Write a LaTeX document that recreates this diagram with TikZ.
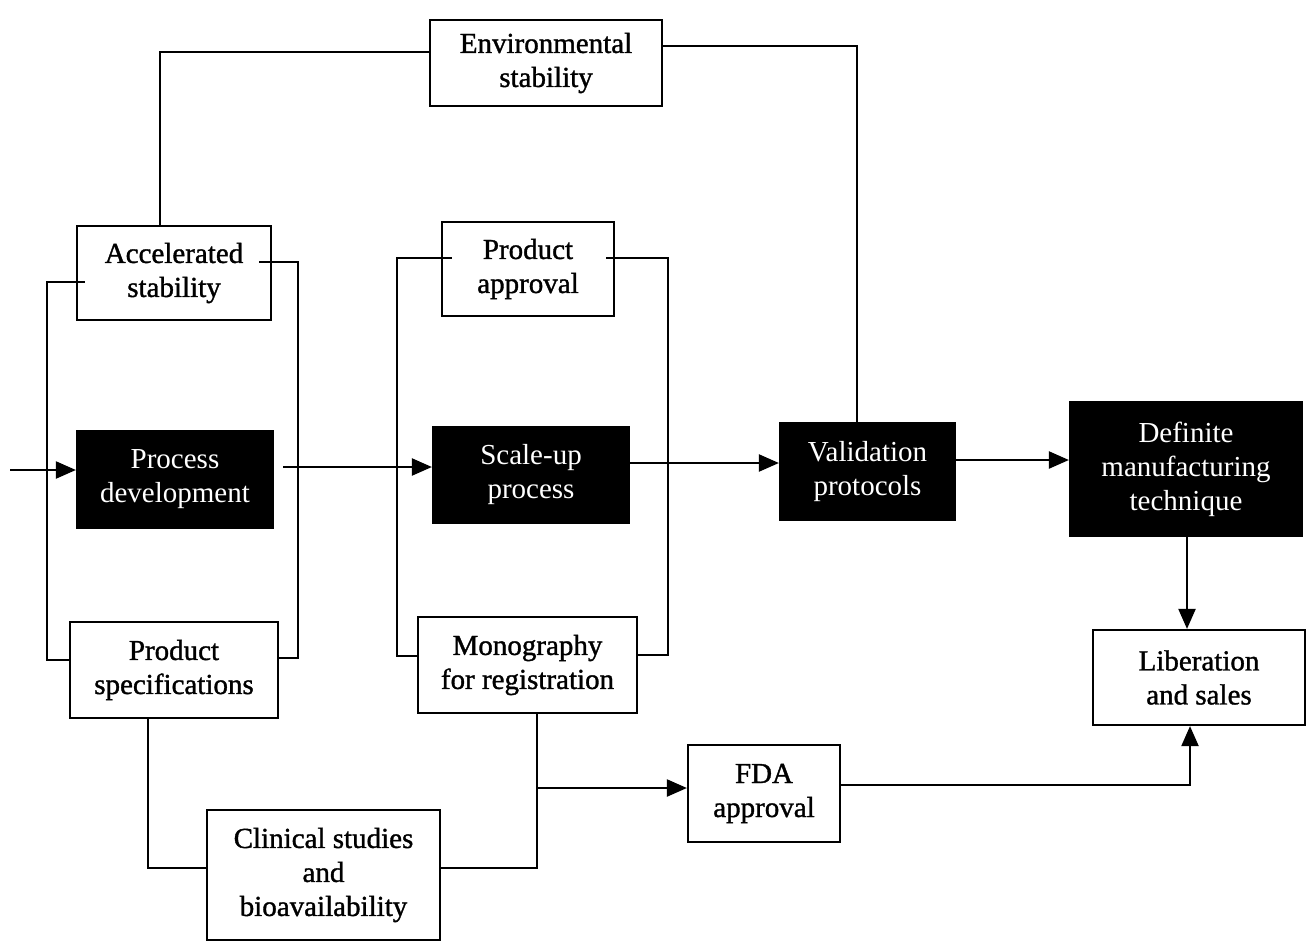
\documentclass[tikz,border=0pt]{standalone}
\usepackage{fontspec}
\setmainfont{Liberation Serif}
\newfontfamily\heavyserif[FakeBold=1.2]{Liberation Serif}
\usetikzlibrary{arrows.meta}
\begin{document}
\begin{tikzpicture}[x=1pt,y=-1pt,
  line width=2.2pt,
  every node/.style={inner sep=0pt, align=center,
    font=\heavyserif\fontsize{29}{34}\selectfont},
  wbox/.style={draw, fill=white, minimum width=#1},
  bbox/.style={draw, fill=black, text=white, minimum width=#1,
    font=\rmfamily\fontsize{29}{34}\selectfont},
  arr/.style={-{Triangle[length=20pt,width=17pt]}}]
\useasboundingbox (0,0) rectangle (1313,940);
\clip (0,0) rectangle (1313,940);

% boxes
\node[wbox=232, minimum height=86] (env) at (546,63) {Environmental\\stability};
\node[wbox=194, minimum height=94] (acc) at (174,273) {Accelerated\\stability};
\node[wbox=172, minimum height=94] (papp) at (528,269) {Product\\approval};
\node[bbox=196, minimum height=97] (proc) at (175,479.5) {Process\\development};
\node[bbox=196, minimum height=96] (scale) at (531,475) {Scale-up\\process};
\node[bbox=175, minimum height=97] (valid) at (867.5,471.5) {Validation\\protocols};
\node[bbox=232, minimum height=134] (defin) at (1186,469) {Definite\\manufacturing\\technique};
\node[wbox=212, minimum height=95] (lib) at (1199,677.5) {Liberation\\and sales};
\node[wbox=208, minimum height=96] (pspec) at (174,670) {Product\\specifications};
\node[wbox=219, minimum height=96] (mono) at (527.5,665) {Monography\\for registration};
\node[wbox=152, minimum height=97] (fda) at (764,793.5) {FDA\\approval};
\node[wbox=233, minimum height=130] (clin) at (323.5,875) {Clinical studies\\and\\bioavailability};

% helper coordinates
\coordinate (in) at (10,470);
\coordinate (r1) at (0,467);
\coordinate (r2) at (0,463);
\coordinate (r3) at (0,460);
\coordinate (fdarow) at (0,788);
\coordinate (clinrow) at (0,868);
\coordinate (envtop) at (0,52);
\coordinate (envright) at (0,46);
\coordinate (junc) at (537,788);
\coordinate (drop) at (1187,0);

% main process line
\draw[arr] (in) -- (in -| proc.west);
\draw[arr] ([xshift=9pt]proc.east |- r1) -- (scale.west |- r1);
\draw[arr] (scale.east |- r2) -- (valid.west |- r2);
\draw[arr] (valid.east |- r3) -- (defin.west |- r3);
\draw[arr] (defin.south -| drop) -- (lib.north -| drop);

% stability loop around process development
\draw ([xshift=9pt]acc.west |- 0,282) -- (47,282) -- (47,660) -- (pspec.west |- 0,660);
\draw ([xshift=-13pt]acc.east |- 0,262) -- (298,262) -- (298,658) -- (pspec.east |- 0,658);
\draw (acc.north -| 160,0) -- (160,52) -- (env.west |- envtop);
\draw (env.east |- envright) -- (857,46) -- (valid.north -| 857,0);

% approval loop around scale-up
\draw ([xshift=11pt]papp.west |- 0,258) -- (397,258) -- (397,656) -- (mono.west |- 0,656);
\draw ([xshift=-9pt]papp.east |- 0,258) -- (668,258) -- (668,655) -- (mono.east |- 0,655);

% registration and clinical branch
\draw (pspec.south -| 148,0) -- (148,868) -- (clin.west |- clinrow);
\draw (mono.south -| 537,0) -- (537,868) -- (clin.east |- clinrow);
\draw[arr] (junc) -- (fda.west |- fdarow);
\draw[arr] (fda.east |- 0,785) -- (1190,785) -- (lib.south -| 1190,0);
\end{tikzpicture}
\end{document}
